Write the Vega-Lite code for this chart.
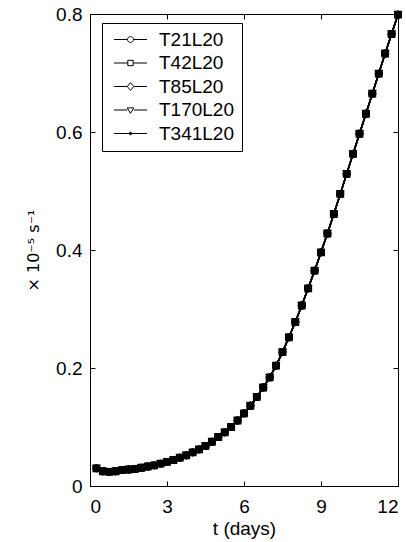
{
  "$schema": "https://vega.github.io/schema/vega-lite/v6.json",
  "width": 308,
  "height": 472,
  "autosize": "none",
  "padding": {"left": 90, "top": 14, "right": 8, "bottom": 56},
  "background": "white",
  "config": {
    "font": "Liberation Sans",
    "view": {"stroke": "black", "strokeWidth": 1},
    "axis": {"labelFont": "Liberation Sans", "titleFont": "Liberation Sans", "labelColor": "black", "titleColor": "black", "domainColor": "black", "tickColor": "black", "grid": false, "labelFontSize": 19, "titleFontWeight": "normal"},
    "legend": {"labelFont": "Liberation Sans", "labelColor": "black"}
  },
  "data": {"values": [
    {"t":0.25,"T21L20":0.030,"T42L20":0.030,"T85L20":0.030,"T170L20":0.030,"T341L20":0.030},
    {"t":0.5,"T21L20":0.025,"T42L20":0.025,"T85L20":0.025,"T170L20":0.025,"T341L20":0.025},
    {"t":0.75,"T21L20":0.024,"T42L20":0.024,"T85L20":0.024,"T170L20":0.024,"T341L20":0.024},
    {"t":1.0,"T21L20":0.025,"T42L20":0.025,"T85L20":0.025,"T170L20":0.025,"T341L20":0.025},
    {"t":1.25,"T21L20":0.027,"T42L20":0.027,"T85L20":0.027,"T170L20":0.027,"T341L20":0.027},
    {"t":1.5,"T21L20":0.028,"T42L20":0.028,"T85L20":0.028,"T170L20":0.028,"T341L20":0.028},
    {"t":1.75,"T21L20":0.029,"T42L20":0.029,"T85L20":0.029,"T170L20":0.029,"T341L20":0.029},
    {"t":2.0,"T21L20":0.031,"T42L20":0.031,"T85L20":0.031,"T170L20":0.031,"T341L20":0.031},
    {"t":2.25,"T21L20":0.033,"T42L20":0.033,"T85L20":0.033,"T170L20":0.033,"T341L20":0.033},
    {"t":2.5,"T21L20":0.035,"T42L20":0.035,"T85L20":0.035,"T170L20":0.035,"T341L20":0.035},
    {"t":2.75,"T21L20":0.038,"T42L20":0.038,"T85L20":0.038,"T170L20":0.038,"T341L20":0.038},
    {"t":3.0,"T21L20":0.041,"T42L20":0.041,"T85L20":0.041,"T170L20":0.041,"T341L20":0.041},
    {"t":3.25,"T21L20":0.044,"T42L20":0.044,"T85L20":0.044,"T170L20":0.044,"T341L20":0.044},
    {"t":3.5,"T21L20":0.048,"T42L20":0.048,"T85L20":0.048,"T170L20":0.048,"T341L20":0.048},
    {"t":3.75,"T21L20":0.052,"T42L20":0.052,"T85L20":0.052,"T170L20":0.052,"T341L20":0.052},
    {"t":4.0,"T21L20":0.057,"T42L20":0.057,"T85L20":0.057,"T170L20":0.057,"T341L20":0.057},
    {"t":4.25,"T21L20":0.062,"T42L20":0.062,"T85L20":0.062,"T170L20":0.062,"T341L20":0.062},
    {"t":4.5,"T21L20":0.068,"T42L20":0.068,"T85L20":0.068,"T170L20":0.068,"T341L20":0.068},
    {"t":4.75,"T21L20":0.075,"T42L20":0.075,"T85L20":0.075,"T170L20":0.075,"T341L20":0.075},
    {"t":5.0,"T21L20":0.083,"T42L20":0.083,"T85L20":0.083,"T170L20":0.083,"T341L20":0.083},
    {"t":5.25,"T21L20":0.091,"T42L20":0.091,"T85L20":0.091,"T170L20":0.091,"T341L20":0.091},
    {"t":5.5,"T21L20":0.100,"T42L20":0.100,"T85L20":0.100,"T170L20":0.100,"T341L20":0.100},
    {"t":5.75,"T21L20":0.111,"T42L20":0.111,"T85L20":0.111,"T170L20":0.111,"T341L20":0.111},
    {"t":6.0,"T21L20":0.123,"T42L20":0.123,"T85L20":0.123,"T170L20":0.123,"T341L20":0.123},
    {"t":6.25,"T21L20":0.136,"T42L20":0.136,"T85L20":0.136,"T170L20":0.136,"T341L20":0.136},
    {"t":6.5,"T21L20":0.151,"T42L20":0.151,"T85L20":0.151,"T170L20":0.151,"T341L20":0.151},
    {"t":6.75,"T21L20":0.167,"T42L20":0.167,"T85L20":0.167,"T170L20":0.167,"T341L20":0.167},
    {"t":7.0,"T21L20":0.184,"T42L20":0.184,"T85L20":0.184,"T170L20":0.184,"T341L20":0.184},
    {"t":7.25,"T21L20":0.204,"T42L20":0.204,"T85L20":0.204,"T170L20":0.204,"T341L20":0.204},
    {"t":7.5,"T21L20":0.227,"T42L20":0.227,"T85L20":0.227,"T170L20":0.227,"T341L20":0.227},
    {"t":7.75,"T21L20":0.252,"T42L20":0.252,"T85L20":0.252,"T170L20":0.252,"T341L20":0.252},
    {"t":8.0,"T21L20":0.278,"T42L20":0.278,"T85L20":0.278,"T170L20":0.278,"T341L20":0.278},
    {"t":8.25,"T21L20":0.306,"T42L20":0.306,"T85L20":0.306,"T170L20":0.306,"T341L20":0.306},
    {"t":8.5,"T21L20":0.335,"T42L20":0.335,"T85L20":0.335,"T170L20":0.335,"T341L20":0.335},
    {"t":8.75,"T21L20":0.365,"T42L20":0.365,"T85L20":0.365,"T170L20":0.365,"T341L20":0.365},
    {"t":9.0,"T21L20":0.396,"T42L20":0.396,"T85L20":0.396,"T170L20":0.396,"T341L20":0.396},
    {"t":9.25,"T21L20":0.428,"T42L20":0.428,"T85L20":0.428,"T170L20":0.428,"T341L20":0.428},
    {"t":9.5,"T21L20":0.461,"T42L20":0.461,"T85L20":0.461,"T170L20":0.461,"T341L20":0.461},
    {"t":9.75,"T21L20":0.495,"T42L20":0.495,"T85L20":0.495,"T170L20":0.495,"T341L20":0.495},
    {"t":10.0,"T21L20":0.529,"T42L20":0.529,"T85L20":0.529,"T170L20":0.529,"T341L20":0.529},
    {"t":10.25,"T21L20":0.563,"T42L20":0.563,"T85L20":0.563,"T170L20":0.563,"T341L20":0.563},
    {"t":10.5,"T21L20":0.597,"T42L20":0.597,"T85L20":0.597,"T170L20":0.597,"T341L20":0.597},
    {"t":10.75,"T21L20":0.631,"T42L20":0.631,"T85L20":0.631,"T170L20":0.631,"T341L20":0.631},
    {"t":11.0,"T21L20":0.665,"T42L20":0.665,"T85L20":0.665,"T170L20":0.665,"T341L20":0.665},
    {"t":11.25,"T21L20":0.699,"T42L20":0.699,"T85L20":0.699,"T170L20":0.699,"T341L20":0.699},
    {"t":11.5,"T21L20":0.733,"T42L20":0.733,"T85L20":0.733,"T170L20":0.733,"T341L20":0.733},
    {"t":11.75,"T21L20":0.766,"T42L20":0.766,"T85L20":0.766,"T170L20":0.766,"T341L20":0.766},
    {"t":12.0,"T21L20":0.799,"T42L20":0.799,"T85L20":0.799,"T170L20":0.799,"T341L20":0.799}
  ]},
  "transform": [{"fold": ["T21L20","T42L20","T85L20","T170L20","T341L20"], "as": ["run","v"]}],
  "resolve": {"axis": {"x": "independent", "y": "independent"}, "scale": {"shape": "independent"}},
  "layer": [
    {
      "mark": {"type": "line", "color": "black", "strokeWidth": 1.5},
      "encoding": {
        "x": {"field": "t", "type": "quantitative", "scale": {"domain": [0, 12], "nice": false},
              "axis": {"orient": "bottom", "values": [0,3,6,9,12], "format": "d", "tickSize": -5, "labelPadding": 16, "title": "t (days)", "titleFontSize": 19, "titlePadding": 3}},
        "y": {"field": "v", "type": "quantitative", "scale": {"domain": [0, 0.8], "nice": false},
              "axis": {"orient": "left", "values": [0,0.2,0.4,0.6,0.8], "format": "~g", "tickSize": -5, "labelPadding": 13, "title": "× 10⁻⁵ s⁻¹", "titleFont": "DejaVu Sans", "titleFontSize": 16, "titlePadding": 14}},
        "detail": {"field": "run"}
      }
    },
    {
      "mark": {"type": "point", "filled": false, "strokeWidth": 1.2, "size": 44, "opacity": 1},
      "encoding": {
        "x": {"field": "t", "type": "quantitative", "axis": null},
        "y": {"field": "v", "type": "quantitative", "axis": null},
        "shape": {"field": "run", "type": "nominal",
          "scale": {"domain": ["T21L20","T42L20","T85L20","T170L20","T341L20"], "range": ["circle","square","diamond","triangle-down","circle"]},
          "legend": null
        },
        "color": {"value": "black"},
        "fill": {"condition": {"test": "datum.run==='T341L20'", "value": "black"}, "value": "transparent"}
      }
    },
    {
      "transform": [{"filter": "datum.t < -100"}],
      "mark": {"type": "point", "filled": false, "strokeWidth": 1, "size": 36, "opacity": 1},
      "encoding": {
        "x": {"field": "t", "type": "quantitative", "axis": null},
        "y": {"field": "v", "type": "quantitative", "axis": null},
        "shape": {"field": "run", "type": "nominal",
          "scale": {"domain": ["T21L20","T42L20","T85L20","T170L20","T341L20"],
                    "range": ["M-5.5,0H-1M1,0H5.5M-1,0A1,1 0 1,0 1,0A1,1 0 1,0 -1,0",
                              "M-5.5,0H-0.9M0.9,0H5.5M-0.9,-0.9H0.9V0.9H-0.9Z",
                              "M-5.5,0H-1.1M1.1,0H5.5M-1.1,0L0,-1.3L1.1,0L0,1.3Z",
                              "M-5.5,0H-1.1M1.1,0H5.5M-1.1,-0.7H1.1L0,1.1Z",
                              "M-5.5,0H5.5M-0.45,0A0.45,0.45 0 1,0 0.45,0A0.45,0.45 0 1,0 -0.45,0M-0.2,0A0.2,0.2 0 1,0 0.2,0A0.2,0.2 0 1,0 -0.2,0"]},
          "legend": {
            "title": null, "orient": "none", "legendX": 12, "legendY": 9,
            "labelFontSize": 19, "symbolSize": 36, "symbolStrokeWidth": 1, "symbolStrokeColor": "black",
            "symbolOffset": 12, "labelOffset": 19, "rowPadding": 3.5,
            "padding": 7, "strokeColor": "black", "fillColor": "white"
          }
        },
        "color": {"value": "black"}
      }
    },
    {
      "mark": {"type": "point", "opacity": 0},
      "encoding": {
        "x": {"field": "t", "type": "quantitative", "axis": {"orient": "top", "values": [0,3,6,9,12], "labels": false, "tickSize": -5, "title": null, "domain": false}},
        "y": {"field": "v", "type": "quantitative", "axis": {"orient": "right", "values": [0,0.2,0.4,0.6,0.8], "labels": false, "tickSize": -5, "title": null, "domain": false}}
      }
    }
  ]
}
